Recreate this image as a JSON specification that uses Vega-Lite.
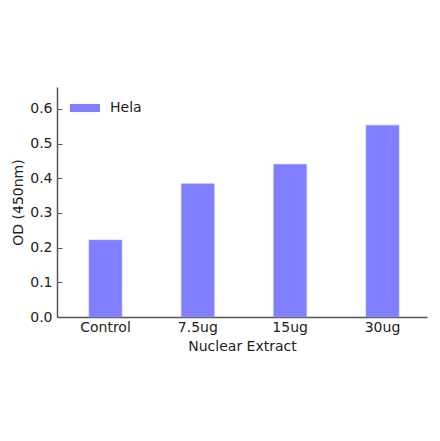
{
  "$schema": "https://vega.github.io/schema/vega-lite/v6.json",
  "width": 370,
  "height": 230,
  "autosize": {"type": "none"},
  "padding": {"left": 57, "top": 87, "right": 13, "bottom": 124},
  "background": "white",
  "config": {
    "view": {"stroke": null},
    "font": "DejaVu Sans",
    "axis": {
      "labelFont": "DejaVu Sans",
      "titleFont": "DejaVu Sans",
      "labelFontSize": 14,
      "titleFontSize": 14,
      "titleFontWeight": "normal",
      "labelColor": "#222",
      "titleColor": "#222",
      "domainColor": "#555",
      "domainWidth": 1.5,
      "tickColor": "#555",
      "grid": false
    },
    "legend": {
      "labelFont": "DejaVu Sans",
      "labelFontSize": 14,
      "labelColor": "#222"
    }
  },
  "data": {
    "values": [
      {"group": "Control", "od": 0.222, "cell": "Hela"},
      {"group": "7.5ug", "od": 0.384, "cell": "Hela"},
      {"group": "15ug", "od": 0.44, "cell": "Hela"},
      {"group": "30ug", "od": 0.553, "cell": "Hela"}
    ]
  },
  "mark": {"type": "bar", "stroke": "#9d9dff", "strokeWidth": 0.5},
  "encoding": {
    "x": {
      "field": "group",
      "type": "nominal",
      "sort": null,
      "title": "Nuclear Extract",
      "scale": {"paddingInner": 0.643, "paddingOuter": 0.325, "align": 0.533},
      "axis": {"labelAngle": 0, "tickSize": -4, "labelPadding": 7, "titlePadding": 5}
    },
    "y": {
      "field": "od",
      "type": "quantitative",
      "title": "OD (450nm)",
      "scale": {"domain": [0, 0.663], "nice": false},
      "axis": {"values": [0, 0.1, 0.2, 0.3, 0.4, 0.5, 0.6], "format": ".1f", "tickSize": -5, "labelPadding": 10, "titlePadding": 4}
    },
    "color": {
      "field": "cell",
      "type": "nominal",
      "title": null,
      "scale": {"range": ["#7f7fff"]},
      "legend": {
        "orient": "none",
        "legendX": 13,
        "legendY": 6,
        "symbolType": "M-1,-0.27L1,-0.27L1,0.27L-1,0.27Z",
        "symbolSize": 900,
        "symbolStrokeWidth": 0,
        "labelOffset": 10,
        "padding": 0
      }
    }
  }
}
